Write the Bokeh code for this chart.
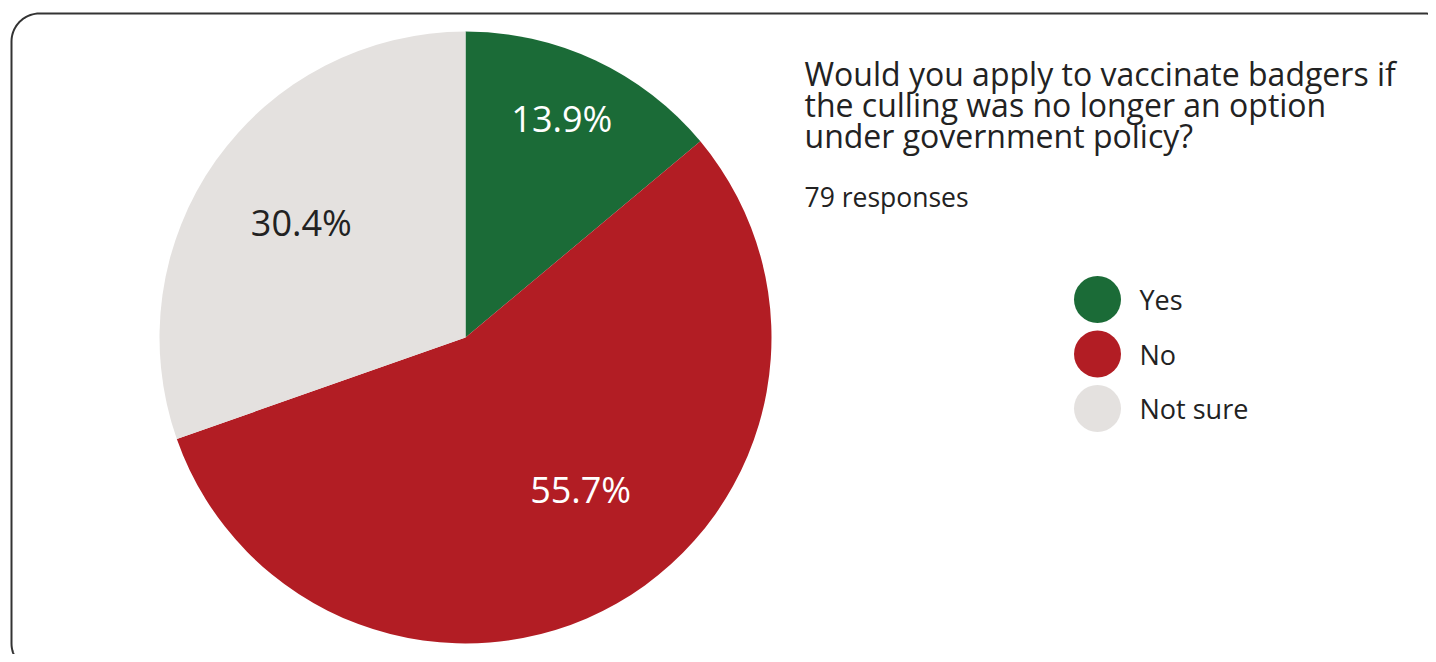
import numpy as np
from bokeh.plotting import figure
from bokeh.models import Range1d, ColumnDataSource
from bokeh.core.properties import value
from bokeh.embed import file_html
from bokeh.resources import INLINE

# ---- data ----
categories = ["Yes", "No", "Not sure"]
counts = [11, 44, 24]
colors = ["#1b6b37", "#b21d24", "#e4e1df"]
label_colors = ["#ffffff", "#ffffff", "#222222"]
title_lines = ["Would you apply to vaccinate badgers if",
               "the culling was no longer an option",
               "under government policy?"]
subtitle = "79 responses"

W, H = 1428, 654
FONT = value("Open Sans")

def Y(sy):
    return H - sy

p = figure(width=W, height=H, output_backend="svg", toolbar_location=None,
           x_range=Range1d(0, W), y_range=Range1d(0, H),
           min_border=0, outline_line_color=None)
p.axis.visible = False
p.grid.visible = False
p.background_fill_color = "white"
p.border_fill_color = "white"

# rounded frame
L, T, R, B, rad = 11, 13, 1452, 671, 28
def arc(cx, cy, a0, a1):
    t = np.linspace(a0, a1, 20)
    return cx + rad * np.cos(t), cy + rad * np.sin(t)
xs, ys = [], []
for cx, cy, a0, a1 in [(L + rad, T + rad, np.pi, 1.5 * np.pi),
                       (R - rad, T + rad, 1.5 * np.pi, 2 * np.pi),
                       (R - rad, B - rad, 0, 0.5 * np.pi),
                       (L + rad, B - rad, 0.5 * np.pi, np.pi)]:
    ax, ay = arc(cx, cy, a0, a1)
    xs.extend(ax); ys.extend(ay)
xs.append(xs[0]); ys.append(ys[0])
p.line(xs, [Y(v) for v in ys], line_color="#333333", line_width=2)

# pie
cx, cy, r = 465, Y(337), 306
total = sum(counts)
frac = np.array(counts) / total
cum = np.concatenate([[0], np.cumsum(frac)])
start = np.pi / 2 - 2 * np.pi * cum[:-1]
end = np.pi / 2 - 2 * np.pi * cum[1:]
src = ColumnDataSource(dict(start=start, end=end, color=colors, cat=categories))
p.wedge(x=cx, y=cy, radius=r, start_angle="start", end_angle="end",
        direction="clock", fill_color="color", line_color=None, source=src)

# slice labels (placed along each slice's mid-angle, with small nudges)
label_r = np.array([0.781, 0.622, 0.656])
label_nudge_deg = np.array([-1.3, -7.6, -0.2])
mid = np.pi / 2 - 2 * np.pi * (cum[:-1] + frac / 2) - np.radians(label_nudge_deg)
lx = cx + label_r * r * np.cos(mid)
ly = cy + label_r * r * np.sin(mid)
labels = [f"{100 * f:.1f}%" for f in frac]
p.text(x=lx, y=ly, text=labels, text_color=label_colors, text_font=FONT,
       text_font_size=value("36px"), text_align="center", text_baseline="middle")

# title
for i, line in enumerate(title_lines):
    p.text(x=[804], y=[Y(73 + 31 * i)], text=[line], text_color="#222222",
           text_font=FONT, text_font_size=value("32px"),
           text_align="left", text_baseline="middle")
p.text(x=[804], y=[Y(196)], text=[subtitle], text_color="#222222",
       text_font=FONT, text_font_size=value("26.5px"),
       text_align="left", text_baseline="middle")

# legend
leg_y = [Y(299 + 54.5 * i) for i in range(len(categories))]
p.scatter(x=[1097] * len(categories), y=leg_y, size=47, marker="circle",
          fill_color=colors, line_color=None)
p.text(x=[1139] * len(categories), y=leg_y, text=categories, text_color="#222222",
       text_font=FONT, text_font_size=value("27px"),
       text_align="left", text_baseline="middle")

open("out.html", "w").write(file_html(p, INLINE))
